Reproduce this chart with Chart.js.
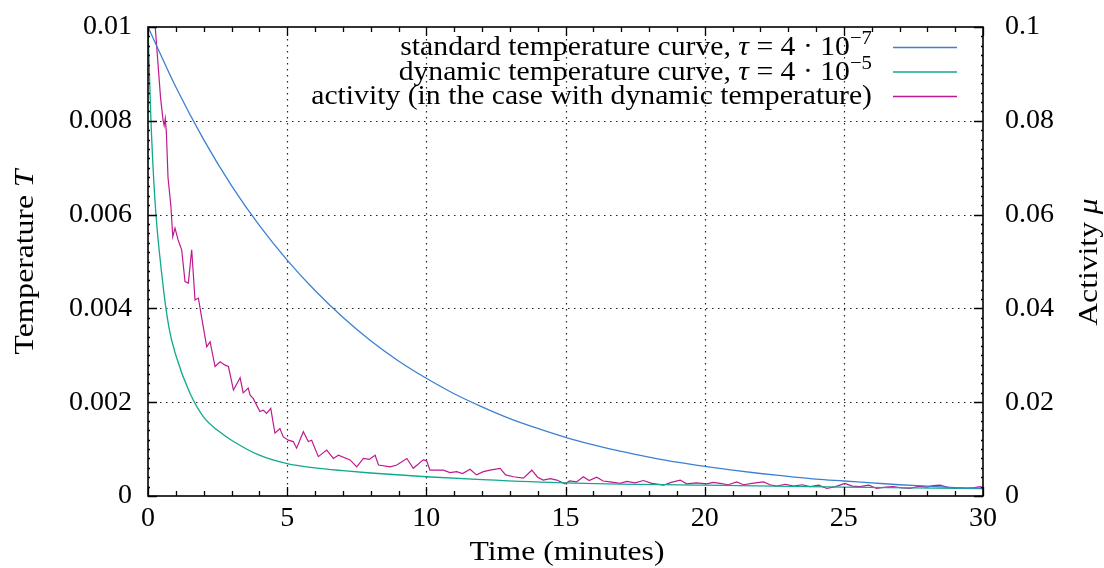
<!DOCTYPE html>
<html>
<head>
<meta charset="utf-8">
<script src="https://cdn.jsdelivr.net/npm/chart.js@4"></script>
<style>
  body { margin: 0; background: #fff; }
  canvas { display: block; }
</style>
</head>
<body>
<canvas id="annealChart" width="1104" height="568"></canvas>
<script>
// time axis (minutes) and tick labels
const timeTicks = ['0', '5', '10', '15', '20', '25', '30'];
const tempTicks = ['0', '0.002', '0.004', '0.006', '0.008', '0.01'];
const activityTicks = ['0', '0.02', '0.04', '0.06', '0.08', '0.1'];

// standard temperature curve, sampled every minute
const standardTime = [0, 1, 2, 3, 4, 5, 6, 7, 8, 9, 10, 11, 12, 13, 14, 15, 16, 17, 18, 19, 20, 21, 22, 23, 24, 25, 26, 27, 28, 29, 30];
const standardTemp = [0.0100, 0.00872, 0.00760, 0.00662, 0.00577, 0.00503, 0.00438, 0.00381, 0.00331, 0.00288, 0.00251,
  0.00218, 0.00190, 0.00165, 0.00144, 0.00125, 0.00109, 0.00095, 0.00083, 0.00072, 0.00063,
  0.00055, 0.00048, 0.00042, 0.00036, 0.00032, 0.00028, 0.00024, 0.00021, 0.00018, 0.00016];

// dynamic temperature curve
const dynamicTime = [0, 0.1, 0.25, 0.5, 0.75, 1, 1.5, 2, 2.5, 3, 4, 5, 6, 7, 8, 10, 12, 15, 20, 25, 30];
const dynamicTemp = [0.0100, 0.0081, 0.0063, 0.0047, 0.0036, 0.0030, 0.0022, 0.00168, 0.00140, 0.00119, 0.00087,
  0.00069, 0.00060, 0.00054, 0.00049, 0.00041, 0.00035, 0.00028, 0.00023, 0.00019, 0.00016];

// activity (dynamic temperature run), right axis
const activityTime = [0, 0.26, 0.45, 0.54, 0.58, 0.62, 0.66, 0.72, 0.82, 0.89, 0.97, 1.02, 1.08, 1.21, 1.33, 1.45,
  1.57, 1.69, 1.81, 1.93, 2.11, 2.23, 2.41, 2.59, 2.77, 2.89, 3.07, 3.31, 3.42, 3.60, 3.67, 3.78,
  4.02, 4.14, 4.26, 4.41, 4.56, 4.74, 4.86, 5.04, 5.22, 5.34, 5.58, 5.76, 5.88, 6.12, 6.42, 6.66, 6.84,
  7.26, 7.50, 7.74, 7.95, 8.16, 8.28, 8.70, 8.94, 9.30, 9.53, 9.89, 10.01, 10.13, 10.37, 10.61, 10.85,
  11.09, 11.30, 11.57, 11.80, 12.05, 12.29, 12.65, 12.85, 13.13, 13.49, 13.79, 14.00, 14.20, 14.45, 14.69,
  14.98, 15.15, 15.40, 15.64, 15.85, 16.12, 16.35, 16.60, 16.96, 17.20, 17.50, 17.80, 18.10, 18.52, 18.80,
  19.12, 19.35, 19.70, 20.08, 20.30, 20.55, 20.85, 21.15, 21.40, 21.70, 22.11, 22.35, 22.59, 22.90, 23.19,
  23.50, 23.79, 24.10, 24.39, 24.70, 25.04, 25.30, 25.58, 25.90, 26.18, 26.50, 26.78, 27.10, 27.38, 27.70,
  27.98, 28.20, 28.46, 28.70, 28.94, 29.20, 29.42, 29.70, 29.90, 30];
const activityValue = [0.125, 0.100, 0.085, 0.0802, 0.0790, 0.0805, 0.0775, 0.0678, 0.0620, 0.0553, 0.0571, 0.0560,
  0.0546, 0.0525, 0.0457, 0.0454, 0.0525, 0.0418, 0.0422, 0.0380, 0.0318, 0.0329, 0.0276, 0.0286, 0.0279,
  0.0276, 0.0226, 0.0252, 0.0220, 0.0230, 0.0215, 0.0208, 0.0180, 0.0183, 0.0176, 0.0187, 0.0134, 0.0144,
  0.0126, 0.0119, 0.0116, 0.0102, 0.0137, 0.0116, 0.0119, 0.0084, 0.0098, 0.0080, 0.0087, 0.0077, 0.0062,
  0.0080, 0.0078, 0.0087, 0.0066, 0.0062, 0.0066, 0.0080, 0.0059, 0.0077, 0.0075, 0.0055, 0.0055, 0.0055,
  0.0050, 0.0052, 0.0048, 0.0057, 0.0045, 0.0052, 0.0055, 0.0059, 0.0045, 0.0041, 0.0038, 0.0055, 0.0040,
  0.0034, 0.0037, 0.0034, 0.0026, 0.0032, 0.0030, 0.0041, 0.0033, 0.0040, 0.0032, 0.0030, 0.0027, 0.0031,
  0.0028, 0.0033, 0.0027, 0.0023, 0.0029, 0.0034, 0.0026, 0.0028, 0.0026, 0.0029, 0.0027, 0.0024, 0.0030,
  0.0024, 0.0027, 0.0030, 0.0024, 0.0021, 0.0025, 0.0021, 0.0024, 0.0020, 0.0023, 0.0016, 0.0020, 0.0027,
  0.0021, 0.0020, 0.0023, 0.0016, 0.0019, 0.0020, 0.0017, 0.0016, 0.0021, 0.0019, 0.0022, 0.0023, 0.0019,
  0.0016, 0.0017, 0.0016, 0.0018, 0.0020, 0.0016];

const serif = "'Liberation Serif', 'DejaVu Serif', serif";
const toPoints = (xs, ys) => xs.map((x, i) => ({ x: x, y: ys[i] }));

// frame, dotted grid and inward ticks, gnuplot style
const framePlugin = {
  id: 'frame',
  beforeDatasetsDraw(chart) {
    const { ctx, chartArea: a, scales } = chart;
    const x = scales.x, yT = scales.yT;
    ctx.save();
    ctx.strokeStyle = '#222';
    ctx.lineWidth = 1.2;
    ctx.setLineDash([1.5, 4.5]);
    for (let v = 5; v < 30; v += 5) {
      const px = Math.round(x.getPixelForValue(v)) + 0.5;
      ctx.beginPath(); ctx.moveTo(px, a.top); ctx.lineTo(px, a.bottom); ctx.stroke();
    }
    for (let i = 1; i < tempTicks.length - 1; i++) {
      const py = Math.round(yT.getPixelForValue(i * 0.002)) + 0.5;
      ctx.beginPath(); ctx.moveTo(a.left, py); ctx.lineTo(a.right, py); ctx.stroke();
    }
    ctx.restore();
  },
  afterDatasetsDraw(chart) {
    const { ctx, chartArea: a, scales } = chart;
    const x = scales.x, yT = scales.yT;
    ctx.save();
    ctx.strokeStyle = '#000';
    ctx.lineWidth = 1.3;
    for (let v = 0; v <= 30; v += 1) {
      const len = v % 5 === 0 ? 9 : 5;
      const px = Math.round(x.getPixelForValue(v)) + 0.5;
      ctx.beginPath();
      ctx.moveTo(px, a.bottom); ctx.lineTo(px, a.bottom - len);
      ctx.moveTo(px, a.top); ctx.lineTo(px, a.top + len);
      ctx.stroke();
    }
    for (let i = 0; i <= 50; i++) {
      const len = i % 10 === 0 ? 9 : 2;
      const py = Math.round(yT.getPixelForValue(i * 0.0002)) + 0.5;
      ctx.beginPath();
      ctx.moveTo(a.left, py); ctx.lineTo(a.left + len, py);
      ctx.moveTo(a.right, py); ctx.lineTo(a.right - len, py);
      ctx.stroke();
    }
    ctx.lineWidth = 1.6;
    ctx.strokeRect(a.left, a.top, a.right - a.left, a.bottom - a.top);
    ctx.restore();
  }
};

// rich text pieces: [text, style]; style '' normal, 'i' italic, 's' superscript
function fontFor(p, size) {
  return (p[1] === 'i' ? 'italic ' : '') + (p[1] === 's' ? size * 0.7 : size) + 'px ' + serif;
}
function richWidth(ctx, parts, size) {
  let w = 0;
  parts.forEach(p => { ctx.font = fontFor(p, size); w += ctx.measureText(p[0]).width; });
  return w;
}
function drawRich(ctx, parts, x, y, size) {
  parts.forEach(p => {
    ctx.font = fontFor(p, size);
    ctx.fillText(p[0], x, p[1] === 's' ? y - size * 0.4 : y);
    x += ctx.measureText(p[0]).width;
  });
}
// draw with a horizontal stretch so the Times-like face spreads like the original
function drawStretched(ctx, parts, x, y, size, sx, align) {
  const w = richWidth(ctx, parts, size) * sx;
  const start = align === 'right' ? x - w : align === 'center' ? x - w / 2 : x;
  ctx.save();
  ctx.translate(start, y);
  ctx.scale(sx, 1);
  drawRich(ctx, parts, 0, 0, size);
  ctx.restore();
}

const legendRows = [
  { parts: [['standard temperature curve, ', ''], ['τ', 'i'], [' = 4 · 10', ''], ['−7', 's']], color: '#3d80d2' },
  { parts: [['dynamic temperature curve, ', ''], ['τ', 'i'], [' = 4 · 10', ''], ['−5', 's']], color: '#10a98e' },
  { parts: [['activity (in the case with dynamic temperature)', '']], color: '#c0198f' }
];

const textPlugin = {
  id: 'texts',
  afterDraw(chart) {
    const ctx = chart.ctx;
    ctx.save();
    ctx.fillStyle = '#000';
    ctx.textBaseline = 'alphabetic';
    ctx.textAlign = 'left';
    // legend
    legendRows.forEach((row, i) => {
      const y = 47 + i * 24.5;
      drawStretched(ctx, row.parts, 872, y + 8, 27, 1.1, 'right');
      ctx.strokeStyle = row.color;
      ctx.lineWidth = 1.3;
      ctx.beginPath(); ctx.moveTo(893, y + 0.5); ctx.lineTo(957, y + 0.5); ctx.stroke();
    });
    // axis titles
    drawStretched(ctx, [['Time (minutes)', '']], 567, 560, 28, 1.13, 'center');
    [[[['Temperature ', ''], ['T', 'i']], 33], [[['Activity ', ''], ['μ', 'i']], 1097]].forEach(t => {
      ctx.save();
      ctx.translate(t[1], 262);
      ctx.rotate(-Math.PI / 2);
      drawStretched(ctx, t[0], 0, 0, 28, 1.13, 'center');
      ctx.restore();
    });
    ctx.restore();
  }
};

const tickFont = { family: serif, size: 28 };
// y axes: fixed width and no label overhang, so the plot box sits where the original's does
const fitY = w => s => { s.width = w; s.paddingTop = 0; s.paddingBottom = 0; };

new Chart(document.getElementById('annealChart').getContext('2d'), {
  type: 'line',
  data: {
    datasets: [
      {
        label: 'standard temperature curve',
        data: toPoints(standardTime, standardTemp),
        yAxisID: 'yT',
        borderColor: legendRows[0].color,
        borderWidth: 1.3,
        pointRadius: 0,
        cubicInterpolationMode: 'monotone'
      },
      {
        label: 'dynamic temperature curve',
        data: toPoints(dynamicTime, dynamicTemp),
        yAxisID: 'yT',
        borderColor: legendRows[1].color,
        borderWidth: 1.3,
        pointRadius: 0,
        cubicInterpolationMode: 'monotone'
      },
      {
        label: 'activity',
        data: toPoints(activityTime, activityValue),
        yAxisID: 'yA',
        borderColor: legendRows[2].color,
        borderWidth: 1.2,
        pointRadius: 0,
        tension: 0
      }
    ]
  },
  options: {
    responsive: false,
    animation: false,
    devicePixelRatio: 1,
    layout: { padding: { top: 27, left: 0, right: 0, bottom: 0 } },
    plugins: {
      legend: { display: false },
      tooltip: { enabled: false }
    },
    scales: {
      x: {
        type: 'linear',
        min: 0,
        max: 30,
        afterFit: s => { s.height = 72; s.paddingLeft = 0; s.paddingRight = 0; },
        grid: { display: false, drawTicks: false },
        border: { display: false },
        ticks: {
          stepSize: 5,
          padding: 6,
          color: '#000',
          font: tickFont,
          maxRotation: 0,
          callback: (v, i) => timeTicks[i]
        }
      },
      yT: {
        position: 'left',
        min: 0,
        max: 0.01,
        afterFit: fitY(148),
        grid: { display: false, drawTicks: false },
        border: { display: false },
        ticks: {
          stepSize: 0.002,
          padding: 16,
          color: '#000',
          font: tickFont,
          callback: (v, i) => tempTicks[i]
        }
      },
      yA: {
        position: 'right',
        min: 0,
        max: 0.1,
        afterFit: fitY(121),
        grid: { display: false, drawTicks: false },
        border: { display: false },
        ticks: {
          stepSize: 0.02,
          padding: 22,
          color: '#000',
          font: tickFont,
          callback: (v, i) => activityTicks[i]
        }
      }
    }
  },
  plugins: [framePlugin, textPlugin]
});
</script>
</body>
</html>
